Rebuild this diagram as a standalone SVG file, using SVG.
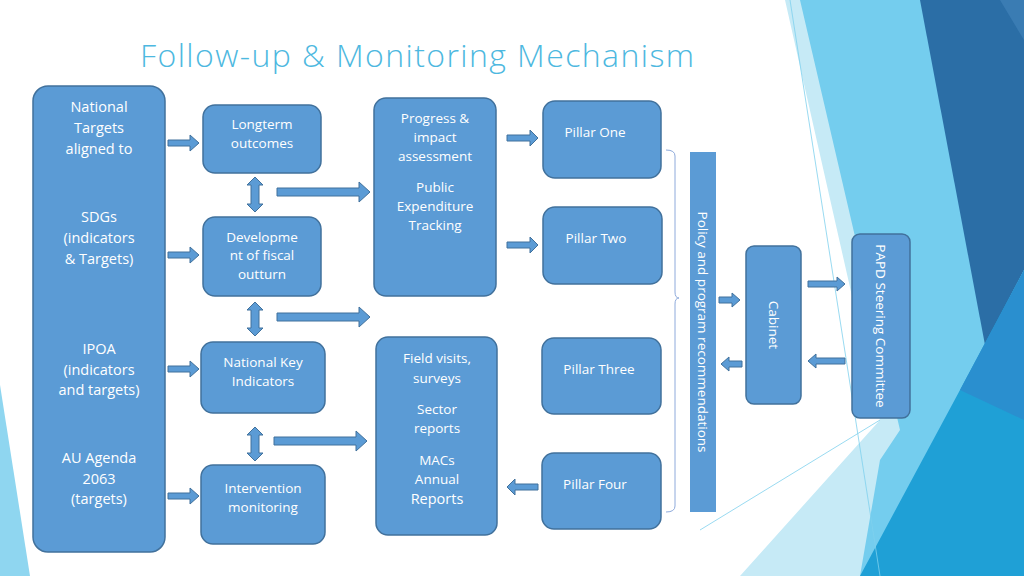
<svg xmlns="http://www.w3.org/2000/svg" width="1024" height="576" viewBox="0 0 1024 576">
<style>
.n{fill:#5b9bd5;stroke:#41719c;stroke-width:1.5}
.t{fill:#fff;font-family:"Open Sans",sans-serif;font-size:13.5px;text-anchor:middle}
.tl{fill:#fff;font-family:"Open Sans",sans-serif;font-size:14.5px;text-anchor:middle}
.a{fill:#5b9bd5;stroke:#41719c;stroke-width:1}
</style>
<rect width="1024" height="576" fill="#fff"/>
<g id="bg">
<polygon points="785,0 1024,0 1024,576 740,576 880,420" fill="#c6eaf6"/>
<polygon points="800,0 930,0 1024,380 1024,576 860,576 880,460 900,430" fill="#74cdee"/>
<polygon points="920,0 1024,0 1024,270 985,345" fill="#2b6ea6"/>
<polygon points="1024,0 1024,40 1000,0" fill="#3a7cb3"/>
<polygon points="1024,270 1024,576 860,576 960,390" fill="#1fa0d6"/>
<polygon points="960,390 1024,270 1024,420" fill="#2a8fcf"/>
<line x1="790" y1="0" x2="880" y2="576" stroke="#7fd1ee" stroke-width="0.8"/>
<line x1="700" y1="530" x2="880" y2="420" stroke="#7fd1ee" stroke-width="0.8"/>
<polygon points="0,385 30,576 0,576" fill="#8fd6f0"/>
</g>
<text x="140" y="67" font-family="'Open Sans',sans-serif" font-weight="300" font-size="32" fill="#4db8e0" textLength="554">Follow-up &amp; Monitoring Mechanism</text>
<g id="connectors">
<path class="a" d="M168,140h22v-5l9,8l-9,8v-5h-22z"/>
<path class="a" d="M168,252h22v-5l9,8l-9,8v-5h-22z"/>
<path class="a" d="M168,366h22v-5l9,8l-9,8v-5h-22z"/>
<path class="a" d="M168,493h22v-5l9,8l-9,8v-5h-22z"/>
<path class="a" d="M255,177l8,8h-4v19h4l-8,8l-8,-8h4v-19h-4z"/>
<path class="a" d="M255,302l8,8h-4v18h4l-8,8l-8,-8h4v-18h-4z"/>
<path class="a" d="M255,427l8,8h-4v18h4l-8,8l-8,-8h4v-18h-4z"/>
<path class="a" d="M277,188h82v-6l11,10l-11,10v-6h-82z"/>
<path class="a" d="M277,313h82v-6l11,10l-11,10v-6h-82z"/>
<path class="a" d="M274,437h82v-6l11,10l-11,10v-6h-82z"/>
<path class="a" d="M507,135h23v-5l8,8l-8,8v-5h-23z"/>
<path class="a" d="M507,242h23v-5l8,8l-8,8v-5h-23z"/>
<path class="a" d="M538,484h-23v-5l-8,8l8,8v-5h23z"/>
<path class="a" d="M719,297h13v-4l8,7l-8,7v-4h-13z"/>
<path class="a" d="M742,361h-13v-4l-8,7l8,7v-4h13z"/>
<path class="a" d="M808,281h29v-4l8,7l-8,7v-4h-29z"/>
<path class="a" d="M845,358h-29v-4l-8,7l8,7v-4h29z"/>
<path d="M666,150q9,0 9,6v136q0,6 4,6q-4,0 -4,6v202q0,6 -9,6" fill="none" stroke="#8eaadb" stroke-width="1"/>
</g>
<g id="left"><rect class="n" x="33" y="86" width="132" height="466" rx="15"/>
<text class="tl" x="99" y="112">National</text><text class="tl" x="99" y="133">Targets</text><text class="tl" x="99" y="154">aligned to</text>
<text class="tl" x="99" y="222">SDGs</text><text class="tl" x="99" y="243">(indicators</text><text class="tl" x="99" y="264">&amp; Targets)</text>
<text class="tl" x="99" y="354">IPOA</text><text class="tl" x="99" y="375">(indicators</text><text class="tl" x="99" y="395">and targets)</text>
<text class="tl" x="99" y="463">AU Agenda</text><text class="tl" x="99" y="484">2063</text><text class="tl" x="99" y="504">(targets)</text></g>
<g id="longterm"><rect class="n" x="203" y="105" width="118" height="68" rx="12"/><text class="t" x="262" y="129">Longterm</text><text class="t" x="262" y="148">outcomes</text></g>
<g id="dev"><rect class="n" x="203" y="217" width="118" height="79" rx="12"/><text class="t" x="262" y="242">Developme</text><text class="t" x="262" y="260">nt of fiscal</text><text class="t" x="262" y="279">outturn</text></g>
<g id="nki"><rect class="n" x="201" y="342" width="124" height="71" rx="12"/><text class="t" x="263" y="367">National Key</text><text class="t" x="263" y="386">Indicators</text></g>
<g id="int"><rect class="n" x="201" y="465" width="124" height="79" rx="12"/><text class="t" x="263" y="493">Intervention</text><text class="t" x="263" y="512">monitoring</text></g>
<g id="prog"><rect class="n" x="374" y="98" width="122" height="198" rx="12"/>
<text class="t" x="435" y="123">Progress &amp;</text><text class="t" x="435" y="142">impact</text><text class="t" x="435" y="161">assessment</text>
<text class="t" x="435" y="192">Public</text><text class="t" x="435" y="211">Expenditure</text><text class="t" x="435" y="230">Tracking</text></g>
<g id="field"><rect class="n" x="376" y="337" width="121" height="198" rx="12"/>
<text class="t" x="437" y="363">Field visits,</text><text class="t" x="437" y="383">surveys</text>
<text class="t" x="437" y="414">Sector</text><text class="t" x="437" y="433">reports</text>
<text class="t" x="437" y="465">MACs</text><text class="t" x="437" y="484">Annual</text><text class="tl" x="437" y="504">Reports</text></g>
<g id="p1"><rect class="n" x="543" y="101" width="118" height="77" rx="12"/><text class="t" x="595" y="137">Pillar One</text></g>
<g id="p2"><rect class="n" x="543" y="207" width="119" height="77" rx="12"/><text class="t" x="596" y="243">Pillar Two</text></g>
<g id="p3"><rect class="n" x="542" y="338" width="119" height="76" rx="12"/><text class="t" x="599" y="374">Pillar Three</text></g>
<g id="p4"><rect class="n" x="542" y="453" width="119" height="76" rx="12"/><text class="t" x="595" y="489">Pillar Four</text></g>
<g id="policy"><rect x="690" y="152" width="26" height="360" fill="#5b9bd5"/><text class="t" transform="translate(698,332) rotate(90)">Policy and program recommendations</text></g>
<g id="cabinet"><rect class="n" x="746" y="246" width="55" height="158" rx="8"/><text class="t" transform="translate(769,325) rotate(90)">Cabinet</text></g>
<g id="papd"><rect class="n" x="852" y="234" width="58" height="184" rx="8"/><text class="t" transform="translate(876,326) rotate(90)">PAPD Steering Committee</text></g>
</svg>
